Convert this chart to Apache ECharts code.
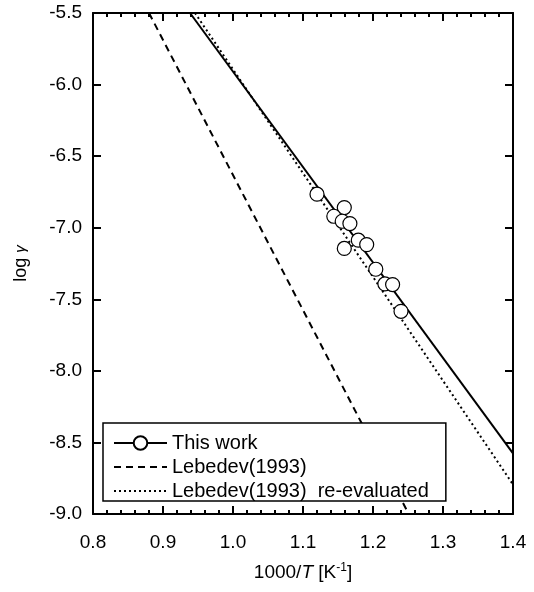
<!DOCTYPE html>
<html>
<head>
<meta charset="utf-8">
<script src="https://cdn.jsdelivr.net/npm/echarts@6/dist/echarts.min.js"></script>
<style>
  html, body { margin: 0; padding: 0; background: #fff; }
  #chart { width: 534px; height: 592px; }
</style>
</head>
<body>
<div id="chart"></div>
<script>
// measured points (1000/T, log gamma)
const thisWorkX = [1.120, 1.159, 1.144, 1.156, 1.167, 1.179, 1.191, 1.159, 1.204, 1.217, 1.228, 1.240];
const thisWorkY = [-6.766, -6.859, -6.920, -6.955, -6.971, -7.087, -7.118, -7.145, -7.290, -7.393, -7.397, -7.584];

// straight lines, end points read at the frame edges
const fitX = [0.9386, 1.4];
const fitY = [-5.5, -8.577];
const lebedevX = [0.880, 1.251];
const lebedevY = [-5.5, -9.0];
const reevalX = [0.9457, 1.4];
const reevalY = [-5.5, -8.794];

const seriesNames = ['This work', 'Lebedev(1993)', 'Lebedev(1993)  re-evaluated'];

const pairs = (xs, ys) => xs.map((x, i) => [x, ys[i]]);
const font = 'Liberation Sans, Arial, sans-serif';
const black = '#000';

const chart = echarts.init(document.getElementById('chart'), null, { renderer: 'canvas' });

const xCommon = {
  type: 'value', min: 0.8, max: 1.4, interval: 0.1,
  axisLine: { show: true, onZero: false, lineStyle: { color: black, width: 2 } },
  axisTick: { show: true, inside: true, length: 8, lineStyle: { color: black, width: 2 } },
  minorTick: { show: true, splitNumber: 5, length: 4, lineStyle: { color: black, width: 2 } },
  splitLine: { show: false },
};
const yCommon = {
  type: 'value', min: -9.0, max: -5.5, interval: 0.5,
  axisLine: { show: true, onZero: false, lineStyle: { color: black, width: 2 } },
  axisTick: { show: true, inside: true, length: 8, lineStyle: { color: black, width: 2 } },
  splitLine: { show: false },
};

const option = {
  animation: false,
  backgroundColor: '#fff',
  textStyle: { fontFamily: font },
  grid: { left: 93, right: 21, top: 13, bottom: 78 },
  xAxis: [
    {
      ...xCommon,
      position: 'bottom',
      axisLabel: { color: black, fontSize: 19, fontFamily: font, margin: 19, formatter: v => v.toFixed(1) },
      name: '1000/{i|T} [K{sup|-1}]',
      nameLocation: 'middle',
      nameGap: 48,
      nameTextStyle: {
        color: black, fontSize: 19, fontFamily: font,
        rich: {
          i: { fontSize: 19, fontStyle: 'italic', fontFamily: font, color: black },
          sup: { fontSize: 12, fontFamily: font, color: black, padding: [0, 0, 9, 0] },
        },
      },
    },
    { ...xCommon, position: 'top', axisLabel: { show: false } },
  ],
  yAxis: [
    {
      ...yCommon,
      position: 'left',
      axisLabel: { color: black, fontSize: 19, fontFamily: font, margin: 11, formatter: v => v.toFixed(1) },
      name: '{a|log }{g|γ}',
      nameLocation: 'middle',
      nameGap: 63,
      nameTextStyle: {
        rich: {
          a: { fontSize: 18, fontFamily: font, color: black },
          g: { fontSize: 15, fontStyle: 'italic', fontFamily: font, color: black },
        },
      },
    },
    { ...yCommon, position: 'right', axisLabel: { show: false } },
  ],
  legend: {
    orient: 'vertical',
    left: 103,
    top: 423,
    data: [
      { name: seriesNames[0] },
      { name: seriesNames[1], itemStyle: { opacity: 0 } },
      { name: seriesNames[2], itemStyle: { opacity: 0 } },
    ],
    itemWidth: 53,
    itemHeight: 17,
    itemGap: 4,
    padding: [10, 17, 0, 10],
    backgroundColor: '#fff',
    borderColor: black,
    borderWidth: 1.5,
    borderRadius: 0,
    textStyle: { color: black, fontSize: 20, fontFamily: font },
  },
  series: [
    {
      name: seriesNames[1],
      type: 'line',
      data: pairs(lebedevX, lebedevY),
      symbol: 'none',
      lineStyle: { color: black, width: 2, type: [7, 5] },
      itemStyle: { color: black },
    },
    {
      name: seriesNames[2],
      type: 'line',
      data: pairs(reevalX, reevalY),
      symbol: 'none',
      lineStyle: { color: black, width: 2, type: [2, 3] },
      itemStyle: { color: black },
    },
    {
      name: seriesNames[0],
      type: 'line',
      data: pairs(fitX, fitY),
      symbol: 'circle',
      symbolSize: 14,
      showSymbol: false,
      lineStyle: { color: black, width: 2 },
      itemStyle: { color: '#fff', borderColor: black, borderWidth: 1.2 },
    },
    {
      name: seriesNames[0],
      type: 'scatter',
      data: pairs(thisWorkX, thisWorkY),
      symbol: 'circle',
      symbolSize: 14,
      z: 3,
      itemStyle: { color: '#fff', borderColor: black, borderWidth: 1.2, opacity: 1 },
    },
  ],
};

chart.setOption(option);
</script>
</body>
</html>
